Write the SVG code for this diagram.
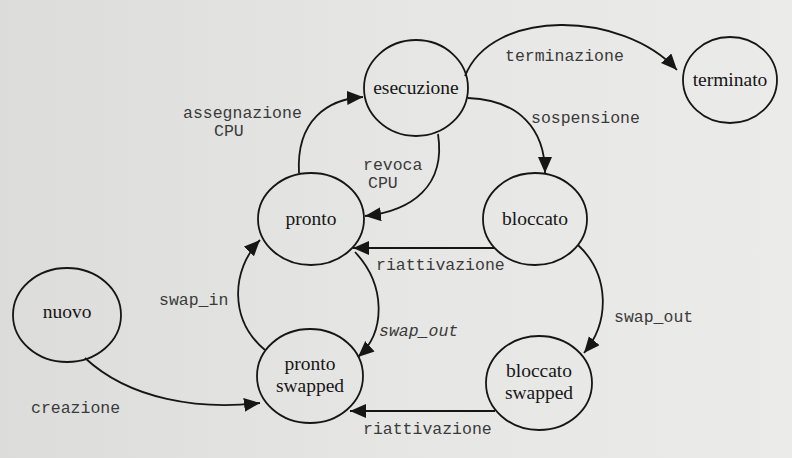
<svg xmlns="http://www.w3.org/2000/svg" width="792" height="458" viewBox="0 0 792 458">
<defs>
<linearGradient id="bg" x1="0" y1="0" x2="1" y2="0">
<stop offset="0" stop-color="#dcdcda"/>
<stop offset="0.5" stop-color="#e6e6e4"/>
<stop offset="1" stop-color="#ebebe9"/>
</linearGradient>
<marker id="arr" markerUnits="userSpaceOnUse" markerWidth="17" markerHeight="15" refX="16" refY="7" orient="auto">
<path d="M0,0 L16,7 L0,14 z" fill="#161616"/>
</marker>
<style>
.node ellipse{fill:none;stroke:#161616;stroke-width:1.8}
.node text{font-family:"Liberation Serif","Times New Roman",serif;font-size:19.5px;fill:#161616;text-anchor:middle}
.edges path{fill:none;stroke:#161616;stroke-width:1.8;marker-end:url(#arr)}
.lbl{font-family:"Liberation Mono","Courier New",monospace;font-size:16.5px;fill:#3a3a3a}
</style>
</defs>
<rect width="792" height="458" fill="url(#bg)"/>

<g id="connectors" class="edges">
<path d="M299,173 C296,120 328,99 363,97"/>
<path d="M438,134 C446,186 412,211 365,216"/>
<path d="M465,76 C492,8 622,10 677,70"/>
<path d="M468,98 C520,100 545,130 545,173"/>
<path d="M495,248 L353,248"/>
<path d="M578,245 C610,275 610,322 584,353"/>
<path d="M355,252 C386,285 386,332 358,357"/>
<path d="M265,350 C229,320 231,270 260,240"/>
<path d="M85,358 C130,400 200,410 260,403"/>
<path d="M495,411 L350,411"/>
</g>

<g id="labels">
<text class="lbl" x="183" y="118">assegnazione</text>
<text class="lbl" x="214" y="136">CPU</text>
<text class="lbl" x="505" y="61">terminazione</text>
<text class="lbl" x="531" y="123">sospensione</text>
<text class="lbl" x="363" y="170">revoca</text>
<text class="lbl" x="368" y="188">CPU</text>
<text class="lbl" x="376" y="270">riattivazione</text>
<text class="lbl" x="159" y="305">swap_in</text>
<text class="lbl" x="379" y="336" font-style="italic">swap_out</text>
<text class="lbl" x="614" y="322">swap_out</text>
<text class="lbl" x="31" y="413">creazione</text>
<text class="lbl" x="363" y="434">riattivazione</text>
</g>

<g id="esecuzione" class="node">
<ellipse cx="416" cy="88" rx="52" ry="48"/>
<text x="416" y="94">esecuzione</text>
</g>
<g id="terminato" class="node">
<ellipse cx="730" cy="80" rx="47" ry="43"/>
<text x="730" y="86">terminato</text>
</g>
<g id="pronto" class="node">
<ellipse cx="311" cy="219" rx="53" ry="46"/>
<text x="311" y="225">pronto</text>
</g>
<g id="bloccato" class="node">
<ellipse cx="535" cy="219" rx="52" ry="46"/>
<text x="535" y="225">bloccato</text>
</g>
<g id="nuovo" class="node">
<ellipse cx="67" cy="315" rx="54" ry="47"/>
<text x="67" y="318">nuovo</text>
</g>
<g id="pronto_swapped" class="node">
<ellipse cx="310" cy="376" rx="53" ry="47"/>
<text x="310" y="370">pronto</text>
<text x="310" y="392">swapped</text>
</g>
<g id="bloccato_swapped" class="node">
<ellipse cx="539" cy="383" rx="53" ry="47"/>
<text x="539" y="377">bloccato</text>
<text x="539" y="399">swapped</text>
</g>
</svg>
